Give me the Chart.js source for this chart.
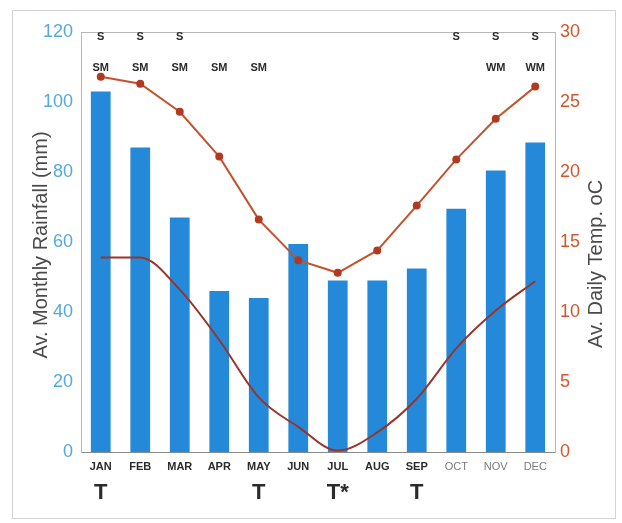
<!DOCTYPE html>
<html>
<head>
<meta charset="utf-8">
<script src="https://cdn.jsdelivr.net/npm/chart.js@4"></script>
<style>
    html, body { margin: 0; padding: 0; background: #fff; }
    #wrap { position: relative; width: 622px; height: 523px; }
    #frame { position: absolute; left: 12px; top: 10px; width: 604px; height: 509px; border: 1px solid #d4d4d4; box-sizing: border-box; }
    canvas { position: absolute; left: 0; top: 0; }
</style>
</head>
<body>
<div id="wrap">
    <div id="frame"></div>
    <canvas id="climate-chart" width="622" height="523"></canvas>
</div>
<script>
const months = ['JAN', 'FEB', 'MAR', 'APR', 'MAY', 'JUN', 'JUL', 'AUG', 'SEP', 'OCT', 'NOV', 'DEC'];
const rainfall = [103, 87, 67, 46, 44, 59.4, 49, 49, 52.4, 69.5, 80.4, 88.4];
const maxTemp = [26.8, 26.3, 24.3, 21.1, 16.6, 13.7, 12.8, 14.4, 17.6, 20.9, 23.8, 26.1];
const minTemp = [13.9, 13.9, 11.6, 8.0, 3.9, 1.8, 0.1, 1.4, 3.8, 7.4, 10.1, 12.2];
const topRowS = ['S', 'S', 'S', '', '', '', '', '', '', 'S', 'S', 'S'];
const topRowM = ['SM', 'SM', 'SM', 'SM', 'SM', '', '', '', '', '', 'WM', 'WM'];
const bottomRowT = ['T', '', '', '', 'T', '', 'T*', '', 'T', '', '', ''];
const rainTicks = [0, 20, 40, 60, 80, 100, 120];
const tempTicks = [0, 5, 10, 15, 20, 25, 30];

const FONT = "'Liberation Sans', Arial, sans-serif";

// month labels, the S / SM rows, T row, axis titles and the plot box
const annotations = {
    id: 'annotations',
    afterDraw(chart) {
        const { ctx, chartArea, scales } = chart;
        const x = scales.x;
        ctx.save();

        // plot box top line
        ctx.strokeStyle = '#b8b8b8';
        ctx.lineWidth = 1;
        ctx.beginPath();
        ctx.moveTo(chartArea.left, chartArea.top + 0.5);
        ctx.lineTo(chartArea.right, chartArea.top + 0.5);
        ctx.stroke();

        ctx.textAlign = 'center';
        ctx.textBaseline = 'middle';
        months.forEach((m, i) => {
            const px = x.getPixelForValue(i);
            ctx.fillStyle = i < 9 ? '#2b2b2b' : '#7a7a7a';
            ctx.font = (i < 9 ? 'bold ' : '') + '11px ' + FONT;
            ctx.fillText(m, px, 467);

            ctx.fillStyle = '#2b2b2b';
            ctx.font = 'bold 11px ' + FONT;
            if (topRowS[i]) ctx.fillText(topRowS[i], px, 37);
            if (topRowM[i]) ctx.fillText(topRowM[i], px, 68);

            if (bottomRowT[i]) {
                ctx.font = 'bold 22px ' + FONT;
                ctx.fillText(bottomRowT[i], px, 493);
            }
        });

        // axis titles
        ctx.fillStyle = '#4a4a4a';
        ctx.font = '20px ' + FONT;
        ctx.translate(41, 245);
        ctx.rotate(-Math.PI / 2);
        ctx.fillText('Av. Monthly Rainfall (mm)', 0, 0);
        ctx.restore();

        ctx.save();
        ctx.fillStyle = '#4a4a4a';
        ctx.font = '20px ' + FONT;
        ctx.textAlign = 'center';
        ctx.textBaseline = 'middle';
        ctx.translate(596, 264);
        ctx.rotate(-Math.PI / 2);
        ctx.fillText('Av. Daily Temp. oC', 0, 0);
        ctx.restore();
    }
};

const canvas = document.querySelector('#climate-chart');

canvas.chartInstance = new Chart(canvas, {
    data: {
        labels: months,
        datasets: [
            {
                type: 'line',
                label: 'Max temp',
                data: maxTemp,
                yAxisID: 'y2',
                borderColor: '#c4522e',
                borderWidth: 2,
                pointRadius: 3,
                pointBackgroundColor: '#b03a22',
                pointBorderColor: '#b03a22',
                tension: 0,
                order: 1
            },
            {
                type: 'line',
                label: 'Min temp',
                data: minTemp,
                yAxisID: 'y2',
                borderColor: '#97352a',
                borderWidth: 2,
                pointRadius: 0,
                cubicInterpolationMode: 'monotone',
                order: 2
            },
            {
                type: 'bar',
                label: 'Rainfall',
                data: rainfall,
                yAxisID: 'y',
                backgroundColor: '#2489d8',
                borderWidth: 0,
                categoryPercentage: 1,
                barPercentage: 0.5,
                order: 3
            }
        ]
    },
    options: {
        responsive: false,
        animation: false,
        layout: {
            padding: { top: 32, left: 0, right: 0, bottom: 0 }
        },
        scales: {
            x: {
                grid: { display: false, drawTicks: false },
                border: { color: '#8a8a8a', width: 1 },
                ticks: { display: false },
                afterFit(scale) { scale.height = 71; }
            },
            y: {
                position: 'left',
                min: 0,
                max: 120,
                afterBuildTicks(scale) { scale.ticks = rainTicks.map(v => ({ value: v })); },
                grid: { display: false, drawTicks: false },
                border: { color: '#b8b8b8', width: 1 },
                ticks: {
                    color: '#55a9dc',
                    padding: 8,
                    font: { family: FONT, size: 18 }
                },
                afterFit(scale) { scale.width = 81; }
            },
            y2: {
                position: 'right',
                min: 0,
                max: 30,
                afterBuildTicks(scale) { scale.ticks = tempTicks.map(v => ({ value: v })); },
                grid: { display: false, drawTicks: false },
                border: { color: '#b8b8b8', width: 1, dash: [3, 2] },
                ticks: {
                    color: '#d4562c',
                    padding: 5,
                    font: { family: FONT, size: 18 }
                },
                afterFit(scale) { scale.width = 67; }
            }
        },
        plugins: {
            legend: { display: false },
            tooltip: { enabled: false }
        }
    },
    plugins: [annotations]
});
</script>
</body>
</html>
